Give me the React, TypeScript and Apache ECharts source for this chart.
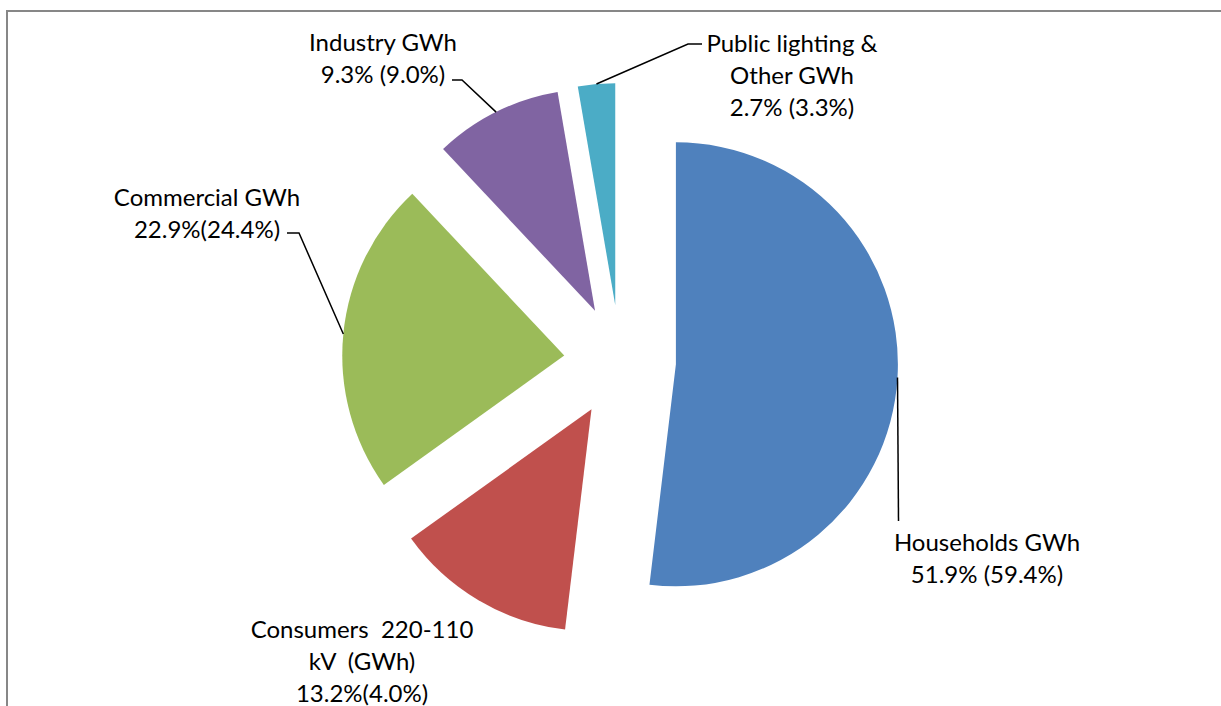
import React, { useEffect, useRef } from 'react';
import * as echarts from 'echarts';

// ---- data ----
const categories = [
  'Households GWh',
  'Consumers  220-110\nkV  (GWh)',
  'Commercial GWh',
  'Industry GWh',
  'Public lighting &\nOther GWh',
];
const shares = [51.9, 13.2, 22.9, 9.3, 2.7];
const previousShares = [59.4, 4.0, 24.4, 9.0, 3.3];
const shareSeparators = [' ', '', '', ' ', ' '];

// ---- styles / layout ----
const colors = ['#4F81BD', '#C0504D', '#9BBB59', '#8064A2', '#4BACC6'];
const CENTER = [620, 361];
const RADIUS = 222;
const EXPLODE = 56;
const FONT = 'Lato';
const FONT_SIZE = 24;
const LINE_HEIGHT = 32;
const labelAnchors = [
  [987, 557],
  [362, 660],
  [207, 212],
  [383, 57],
  [792, 74],
];
// leader line bends after the start point on the slice edge (null = no line)
const leaderBends: (number[][] | 'vertical' | null)[] = [
  'vertical',
  null,
  [[299, 233], [287, 233]],
  [[462, 80], [452, 80]],
  [[688, 44], [702, 44]],
];
const HOUSEHOLD_LINE_END_Y = 521;

function leaderStart(i: number): number[] {
  const total = shares.reduce((a, b) => a + b, 0);
  let before = 0;
  for (let k = 0; k < i; k++) before += shares[k];
  const mid = ((before + shares[i] / 2) / total) * Math.PI * 2;
  const r = RADIUS + EXPLODE;
  return [CENTER[0] + r * Math.sin(mid), CENTER[1] - r * Math.cos(mid)];
}

function labelText(i: number): string {
  return `${categories[i]}\n${shares[i].toFixed(1)}%${shareSeparators[i]}(${previousShares[i].toFixed(1)}%)`;
}

export default function App() {
  const ref = useRef<HTMLDivElement>(null);
  useEffect(() => {
    if (!ref.current) return;
    const chart = echarts.init(ref.current, undefined, { renderer: 'svg' });

    const lines: any[] = [];
    leaderBends.forEach((b, i) => {
      if (!b) return;
      const s = leaderStart(i);
      const pts = b === 'vertical' ? [s, [s[0] + 1, HOUSEHOLD_LINE_END_Y]] : [s, ...b];
      lines.push({
        type: 'polyline',
        shape: { points: pts },
        style: { stroke: '#000', lineWidth: 1.5, fill: null },
        z: 10,
      });
    });

    const texts = categories.map((_, i) => ({
      type: 'text',
      x: labelAnchors[i][0],
      y: labelAnchors[i][1],
      z: 11,
      style: {
        text: labelText(i),
        fill: '#000',
        font: `${FONT_SIZE}px ${FONT}`,
        lineHeight: LINE_HEIGHT,
        align: 'center',
        verticalAlign: 'middle',
      },
    }));

    chart.setOption({
      animation: false,
      backgroundColor: '#fff',
      graphic: [
        {
          type: 'rect',
          shape: { x: 7, y: 11, width: 1400, height: 900 },
          style: { fill: null, stroke: '#878787', lineWidth: 2 },
          z: 0,
        },
        ...lines,
        ...texts,
      ],
      series: [
        {
          type: 'pie',
          center: CENTER,
          radius: RADIUS,
          startAngle: 90,
          clockwise: true,
          selectedMode: 'multiple',
          selectedOffset: EXPLODE,
          avoidLabelOverlap: false,
          emphasis: { disabled: true },
          itemStyle: { borderWidth: 0 },
          label: { show: false },
          labelLine: { show: false },
          data: categories.map((name, i) => ({
            name,
            value: shares[i],
            selected: true,
            itemStyle: { color: colors[i] },
            select: { itemStyle: { color: colors[i], borderWidth: 0 } },
          })),
        },
      ],
    });
    return () => chart.dispose();
  }, []);
  return (
    <div
      ref={ref}
      style={{ position: 'fixed', left: 0, top: 0, width: 1221, height: 706 }}
    />
  );
}
